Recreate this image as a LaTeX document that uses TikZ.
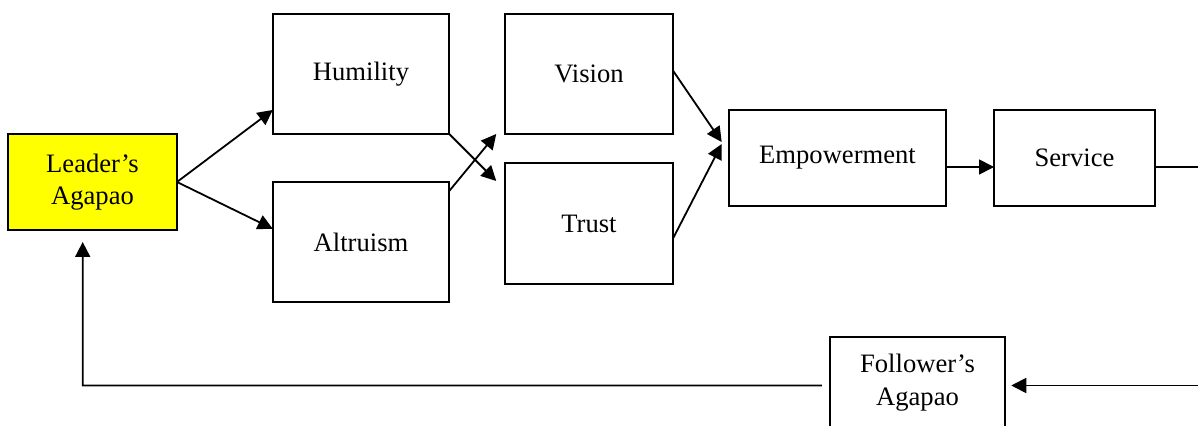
\documentclass[tikz,border=0pt]{standalone}
\usepackage{fontspec}
\setmainfont{Liberation Serif}
\usetikzlibrary{arrows.meta,calc}
\definecolor{agapao}{RGB}{255,255,0}
\tikzset{
  stage/.style={draw=black, line width=1.1pt, inner sep=0pt, outer sep=0pt, align=center,
    font=\fontsize{13.3}{16}\selectfont},
  flow/.style={line width=0.9pt, -{Triangle[length=7.5pt,width=7.5pt]}},
  lbl/.style={inner sep=0pt, align=center, font=\fontsize{13.3}{16.5}\selectfont}
}
\begin{document}
\begin{tikzpicture}[x=0.5pt, y=-0.5pt]
\useasboundingbox (0,0) rectangle (1198,426);
\clip (0,0) rectangle (1198,426);
\fill[white] (0,0) rectangle (1198,426);
% nodes
\node[stage, fill=agapao, minimum width=84.5pt, minimum height=48pt] (leader) at (92.5,182) {Leader’s\\Agapao};
\node[stage, minimum width=88.25pt, minimum height=60pt] (hum) at (361,74) {Humility};
\node[stage, minimum width=88.25pt, minimum height=60pt] (alt) at (361,242) {Altruism};
\node[stage, minimum width=84.25pt, minimum height=60pt] (vis) at (589,74) {Vision};
\node[stage, minimum width=84.25pt, minimum height=60.5pt] (tru) at (589,223.5) {Trust};
\node[stage, minimum width=108.5pt, minimum height=48pt] (emp) at (837.5,158) {Empowerment};
\node[stage, minimum width=80.5pt, minimum height=48pt] (ser) at (1074.5,158) {Service};
\node[stage, anchor=north, minimum width=87.75pt, minimum height=55pt] (fol) at (917.5,337) {};
\node[lbl] (foltext) at ($(fol.north)+(0,46)$) {Follower’s\\Agapao};
% connectors
\draw[flow] (leader.east) -- ($(hum.west)!0.6!(hum.south west)$);
\draw[flow] (leader.east) -- ($(alt.north west)!0.78!(alt.west)$);
\draw[flow] (hum.south east) -- ($(tru.north west)+(-8.5,18)$);
\draw[flow] ($(alt.north east)+(0,9)$) -- ($(vis.south west)+(-8.5,0)$);
\draw[flow] ($(vis.east)+(0,-3)$) -- ($(emp.west)+(-7.3,-16)$);
\draw[flow] ($(tru.east)+(0,14.5)$) -- ($(emp.west)+(-7.3,-14)$);
\draw[flow] ($(emp.east)+(0,9)$) -- ($(ser.west)+(0,9)$);
\coordinate (rtop) at (1215,167);
\coordinate (rbot) at (1215,385.5);
\draw[flow] ($(ser.east)+(0,9)$) -- (rtop) -- (rbot) -- ($(fol.north east)+(6,48.5)$);
\coordinate (lcorner) at (82.7,385.5);
\draw[flow] ($(fol.north west)+(-8,48.5)$) -- (lcorner) -- ($(leader.south)+(-9.8,12)$);
\end{tikzpicture}
\end{document}
